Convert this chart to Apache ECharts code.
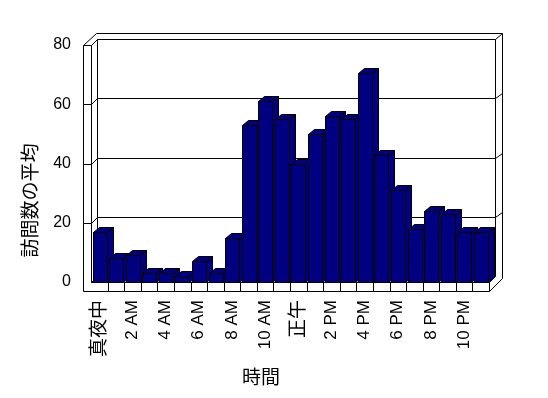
<!DOCTYPE html>
<html><head><meta charset="utf-8">
<script src="https://cdn.jsdelivr.net/npm/echarts@6/dist/echarts.min.js"></script>
<style>html,body{margin:0;padding:0;background:#fff}#c{width:548px;height:398px}</style>
</head><body><div id="c"></div>
<script>
const hours = ['真夜中','1 AM','2 AM','3 AM','4 AM','5 AM','6 AM','7 AM','8 AM','9 AM','10 AM','11 AM',
  '正午','1 PM','2 PM','3 PM','4 PM','5 PM','6 PM','7 PM','8 PM','9 PM','10 PM','11 PM'];
const visits = [17, 8, 9, 3, 3, 2, 7, 3, 15, 53, 61, 55, 40, 50, 56, 55, 70.5, 43, 31, 18, 24, 23, 17, 17];
const gridValues = [20, 40, 60];
const xTitle = '時間';
const yTitle = '訪問数の平均';

const FONT = "'Liberation Sans', 'Noto Sans CJK JP', sans-serif";
const chart = echarts.init(document.getElementById('c'), null, {renderer: 'canvas'});

function frameItem(params, api) {
  const cs = params.coordSys;
  const x0 = Math.round(cs.x) + 0.5, x1 = Math.round(cs.x + cs.width) + 0.5;
  const yt = Math.round(cs.y) + 0.5, yb = Math.round(cs.y + cs.height) + 0.5;
  const D = 6;
  const backLeft = x0 + D, backRight = x1 + D, backTop = yt - D, backBottom = yb - D;
  const outerLeft = x0 - 8, outerRight = backRight + 7, outerTop = backTop - 6, floorBottom = yb + 9;
  const st = {stroke: '#000', lineWidth: 1, fill: null};
  const ch = [];
  ch.push({type: 'polygon', shape: {points: [[outerLeft, yt], [backLeft - 1, outerTop], [outerRight, outerTop],
    [outerRight, floorBottom - (outerRight - x1)], [x1, floorBottom], [outerLeft, floorBottom]]},
    style: {fill: '#fff', stroke: '#000', lineWidth: 1}});
  ch.push({type: 'polyline', shape: {points: [[outerLeft, yt], [x0, yt], [x0, yb]]}, style: st});
  ch.push({type: 'line', shape: {x1: x0, y1: yt, x2: backLeft, y2: backTop}, style: st});
  ch.push({type: 'polyline', shape: {points: [[backLeft, backBottom], [backLeft, backTop], [backRight, backTop], [backRight, backBottom]]}, style: st});
  ch.push({type: 'line', shape: {x1: backRight, y1: backTop, x2: outerRight, y2: outerTop}, style: st});
  ch.push({type: 'polyline', shape: {points: [[x0, yb], [x1, yb], [x1, floorBottom]]}, style: st});
  ch.push({type: 'line', shape: {x1: backLeft, y1: backBottom, x2: backRight, y2: backBottom}, style: st});
  ch.push({type: 'line', shape: {x1: x0, y1: yb, x2: backLeft, y2: backBottom}, style: st});
  ch.push({type: 'line', shape: {x1: x1, y1: yb, x2: backRight, y2: backBottom}, style: st});
  const band = api.size([1, 0])[0];
  for (let k = 1; k < hours.length; k++) {
    const xb = Math.round(api.coord([k, 0])[0] - band / 2) + 0.5;
    ch.push({type: 'line', shape: {x1: xb, y1: yb, x2: xb, y2: floorBottom}, style: st});
  }
  gridValues.forEach(v => {
    const yF = Math.round(api.coord([0, v])[1]) + 0.5;
    ch.push({type: 'polyline', shape: {points: [[outerLeft, yF], [x0, yF], [backLeft, yF - D], [backRight, yF - D], [outerRight, yF - D - 5]]}, style: st});
  });
  return {type: 'group', children: ch};
}

function barItem(params, api) {
  const c = api.coord([api.value(0), api.value(1)]);
  const base = api.coord([api.value(0), 0]);
  const band = api.size([1, 0])[0];
  const left = Math.round(c[0] - band / 2 + 1.5) + 0.5;
  const right = left + 14;
  const top = Math.round(c[1]) + 0.5, bottom = Math.round(base[1]) + 0.5;
  const dx = 6, dy = 5;
  const sty = {fill: '#000080', stroke: '#000', lineWidth: 1};
  return {type: 'group', children: [
    {type: 'polygon', shape: {points: [[right, top], [right + dx, top - dy], [right + dx, bottom - dy], [right, bottom]]}, style: sty},
    {type: 'polygon', shape: {points: [[left, top], [left + dx, top - dy], [right + dx, top - dy], [right, top]]}, style: sty},
    {type: 'rect', shape: {x: left, y: top, width: right - left, height: bottom - top}, style: sty}
  ]};
}

chart.setOption({
  animation: false,
  backgroundColor: '#fff',
  grid: {left: 91, right: 59, top: 45, bottom: 116, containLabel: false},
  xAxis: {
    type: 'category', data: hours, boundaryGap: true,
    axisLine: {show: false}, axisTick: {show: false},
    axisLabel: {interval: 1, rotate: 90, margin: 18, color: '#000', fontSize: 17, fontFamily: FONT,
      formatter: v => /[^\x00-\x7F]/.test(v) ? '{c|' + v + '}' : v,
      rich: {c: {fontSize: 19, fontFamily: FONT, color: '#000'}}},
    name: xTitle, nameLocation: 'middle', nameGap: 87,
    nameTextStyle: {color: '#000', fontSize: 19, fontFamily: FONT, padding: [0, 58, 0, 0]}
  },
  yAxis: {
    type: 'value', min: 0, max: 80, interval: 20,
    axisLine: {show: false}, axisTick: {show: false}, splitLine: {show: false},
    axisLabel: {margin: 20, color: '#000', fontSize: 16, fontFamily: FONT},
    name: yTitle, nameLocation: 'middle', nameRotate: 90, nameGap: 50,
    nameTextStyle: {color: '#000', fontSize: 19, fontFamily: FONT, padding: [0, 74, 0, 0]}
  },
  series: [
    {type: 'custom', name: 'frame', data: [[0, 0]], renderItem: frameItem, z: 1, silent: true, clip: false},
    {type: 'custom', name: 'visits', data: visits.map((v, i) => [i, v]), renderItem: barItem, z: 2, clip: false}
  ]
});
</script></body></html>
